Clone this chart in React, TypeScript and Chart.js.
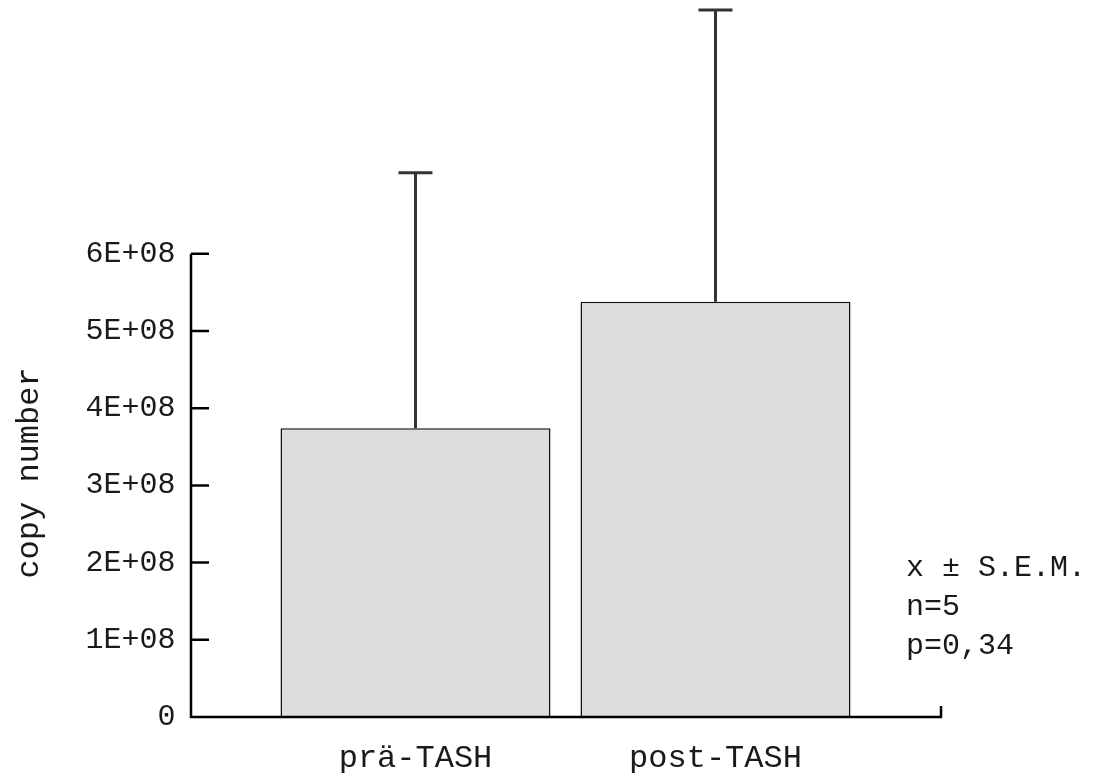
import React, { useEffect, useRef } from 'react';
import { Chart, registerables } from 'chart.js';

Chart.register(...registerables);

const categories = ['prä-TASH', 'post-TASH'];
const meanValues = [3.74e8, 5.38e8];
const semValues = [3.31e8, 3.78e8];
const yTickValues = [0, 1e8, 2e8, 3e8, 4e8, 5e8, 6e8];
const yTickLabels = ['0', '1E+08', '2E+08', '3E+08', '4E+08', '5E+08', '6E+08'];
const annotationLines = ['x ± S.E.M.', 'n=5', 'p=0,34'];
const yAxisTitle = 'copy number';

const FONT_FAMILY = '"Liberation Mono", "Courier New", monospace';
const TICK_FONT_SIZE = 30;
const LABEL_FONT_SIZE = 32;
const TEXT_COLOR = '#1a1a1a';

const decorPlugin = {
  id: 'decor',
  afterDatasetsDraw(chart: any) {
    const ctx = chart.ctx as CanvasRenderingContext2D;
    const y = chart.scales.y;
    const y0 = y.getPixelForValue(0);
    const yTop = y.getPixelForValue(yTickValues[yTickValues.length - 1]);
    const axisX = 191;
    const axisRight = 941;
    ctx.save();

    // error bars (mean + S.E.M.)
    const meta = chart.getDatasetMeta(0);
    meta.data.forEach((bar: any, i: number) => {
      const cx = bar.x;
      const top = y.getPixelForValue(meanValues[i]);
      const et = y.getPixelForValue(meanValues[i] + semValues[i]);
      ctx.strokeStyle = '#333333';
      ctx.lineWidth = 3;
      ctx.beginPath();
      ctx.moveTo(cx, top);
      ctx.lineTo(cx, et);
      ctx.moveTo(cx - 17, et);
      ctx.lineTo(cx + 17, et);
      ctx.stroke();
    });

    // axis lines and inward ticks
    ctx.strokeStyle = '#000000';
    ctx.lineWidth = 2.5;
    ctx.beginPath();
    ctx.moveTo(axisX, yTop);
    ctx.lineTo(axisX, y0);
    ctx.lineTo(axisRight, y0);
    ctx.lineTo(axisRight, y0 - 11);
    ctx.stroke();
    ctx.beginPath();
    yTickValues.forEach((v) => {
      if (v === 0) return;
      const py = y.getPixelForValue(v);
      ctx.moveTo(axisX, py);
      ctx.lineTo(axisX + 18, py);
    });
    ctx.stroke();

    // annotation text
    ctx.fillStyle = TEXT_COLOR;
    ctx.font = `${TICK_FONT_SIZE}px ${FONT_FAMILY}`;
    ctx.textAlign = 'left';
    ctx.textBaseline = 'middle';
    annotationLines.forEach((t, i) => {
      ctx.fillText(t, 906, 568 + i * 39);
    });

    // y-axis title
    ctx.font = `${LABEL_FONT_SIZE}px ${FONT_FAMILY}`;
    ctx.translate(30, 473);
    ctx.rotate(-Math.PI / 2);
    ctx.textAlign = 'center';
    ctx.fillText(yAxisTitle, 0, 0);
    ctx.restore();
  },
};

export default function App() {
  const canvasRef = useRef<HTMLCanvasElement | null>(null);

  useEffect(() => {
    if (!canvasRef.current) return;
    const chart = new Chart(canvasRef.current, {
      type: 'bar',
      data: {
        labels: categories,
        datasets: [
          {
            data: meanValues,
            backgroundColor: '#dddddd',
            borderColor: '#111111',
            borderWidth: 1.5,
            categoryPercentage: 1,
            barPercentage: 0.9,
          },
        ],
      },
      options: {
        animation: false,
        responsive: true,
        maintainAspectRatio: false,
        layout: { padding: { left: 0, right: 231.5, top: 0, bottom: 0 } },
        plugins: {
          legend: { display: false },
          tooltip: { enabled: false },
          title: { display: false },
        },
        scales: {
          x: {
            grid: { display: false, drawTicks: false },
            border: { display: false },
            ticks: {
              color: TEXT_COLOR,
              font: { family: FONT_FAMILY, size: LABEL_FONT_SIZE },
              padding: 22,
            },
            afterFit: (scale: any) => {
              scale.height = 56;
            },
          },
          y: {
            min: 0,
            max: 8.99e8,
            grid: { display: false, drawTicks: true, tickLength: 85 },
            border: { display: false },
            afterBuildTicks: (scale: any) => {
              scale.ticks = yTickValues.map((v) => ({ value: v }));
            },
            ticks: {
              color: TEXT_COLOR,
              font: { family: FONT_FAMILY, size: TICK_FONT_SIZE },
              padding: 5,
              autoSkip: false,
              callback: (v: any) => {
                const idx = yTickValues.indexOf(Number(v));
                return idx >= 0 ? yTickLabels[idx] : '';
              },
            },
            afterFit: (scale: any) => {
              scale.width = 265.5;
            },
          },
        },
      },
      plugins: [decorPlugin],
    });
    return () => chart.destroy();
  }, []);

  return (
    <div style={{ position: 'fixed', left: 0, top: 0, width: 1097, height: 773, background: '#ffffff' }}>
      <canvas ref={canvasRef} />
    </div>
  );
}
